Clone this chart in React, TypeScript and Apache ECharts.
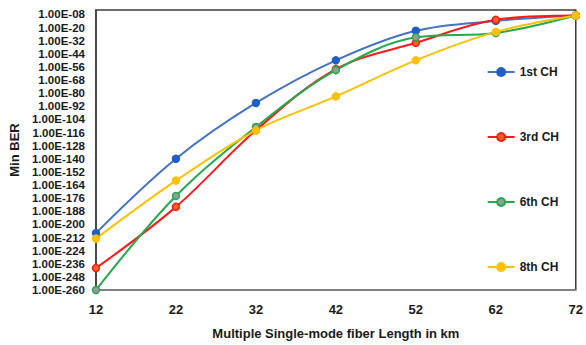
import React, { useEffect, useRef } from "react";
import * as echarts from "echarts";

const lengthsKm = ["12", "22", "32", "42", "52", "62", "72"];
// BER exponents (BER = 1.00E<exp>)
const ch1Exp = [-208, -140, -89, -50, -23, -14, -9];
const ch3Exp = [-240, -184, -114, -58, -34, -13, -9];
const ch6Exp = [-260, -174, -111, -59, -29, -25, -9];
const ch8Exp = [-213, -160, -114, -83, -50, -24, -9];

const BASE = -260;
const TOP = -4;

export default function App() {
  const ref = useRef<HTMLDivElement>(null);
  useEffect(() => {
    if (!ref.current) return;
    const chart = echarts.init(ref.current, undefined, { renderer: "svg" });
    const toV = (arr: number[]) => arr.map((e) => e - BASE);
    const font = "Liberation Sans";
    const mk = (name: string, data: number[], line: string, fill: string, border: string) => ({
      name,
      type: "line",
      data: toV(data),
      smooth: 0.35,
      symbol: "circle",
      symbolSize: 7,
      lineStyle: { color: line, width: 2 },
      itemStyle: { color: fill, borderColor: border, borderWidth: 1.5 },
    });
    chart.setOption({
      animation: false,
      grid: {
        left: 90,
        right: 10,
        top: 10,
        bottom: 49,
        show: true,
        borderColor: "#3c3c3c",
        borderWidth: 1.5,
      },
      legend: {
        orient: "vertical",
        right: 22,
        top: 61,
        itemWidth: 27,
        itemHeight: 10,
        itemGap: 53,
        textStyle: { fontFamily: font, fontWeight: "bold", fontSize: 12, color: "#1a1a1a" },
        data: ["1st CH", "3rd CH", "6th CH", "8th CH"],
      },
      xAxis: {
        type: "category",
        data: lengthsKm,
        boundaryGap: false,
        name: "Multiple Single-mode fiber Length in km",
        nameLocation: "middle",
        nameGap: 37,
        nameTextStyle: { fontFamily: font, fontWeight: "bold", fontSize: 13, color: "#1a1a1a" },
        axisLine: { lineStyle: { color: "#8a8a8a", width: 1.5 } },
        axisTick: { show: false },
        axisLabel: { fontFamily: font, fontWeight: "bold", fontSize: 13, color: "#1a1a1a", margin: 13 },
        splitLine: { show: false },
      },
      yAxis: {
        type: "value",
        min: 0,
        max: TOP - BASE,
        interval: 12,
        name: "Min BER",
        nameLocation: "middle",
        nameGap: 72,
        nameTextStyle: { fontFamily: font, fontWeight: "bold", fontSize: 13, color: "#1a1a1a" },
        axisLine: { show: true, lineStyle: { color: "#3c3c3c", width: 1.5 } },
        axisTick: { show: false },
        splitLine: { show: false },
        axisLabel: {
          fontFamily: font,
          fontWeight: "bold",
          fontSize: 11.5,
          color: "#1a1a1a",
          margin: 11,
          formatter: (v: number) => {
            if (v > 252) return "";
            const e = -(v + BASE);
            return "1.00E-" + (e < 10 ? "0" + e : String(e));
          },
        },
      },
      series: [
        mk("1st CH", ch1Exp, "#4472C4", "#1F5FC8", "#1F5FC8"),
        mk("3rd CH", ch3Exp, "#FF1A1A", "#F0641E", "#FF1A1A"),
        mk("6th CH", ch6Exp, "#22AA4C", "#9A9A9A", "#22AA4C"),
        mk("8th CH", ch8Exp, "#FFC000", "#FFC000", "#FFC000"),
      ],
    });
    return () => chart.dispose();
  }, []);
  return <div ref={ref} style={{ width: 586, height: 345, position: "absolute", left: 0, top: 0 }} />;
}
